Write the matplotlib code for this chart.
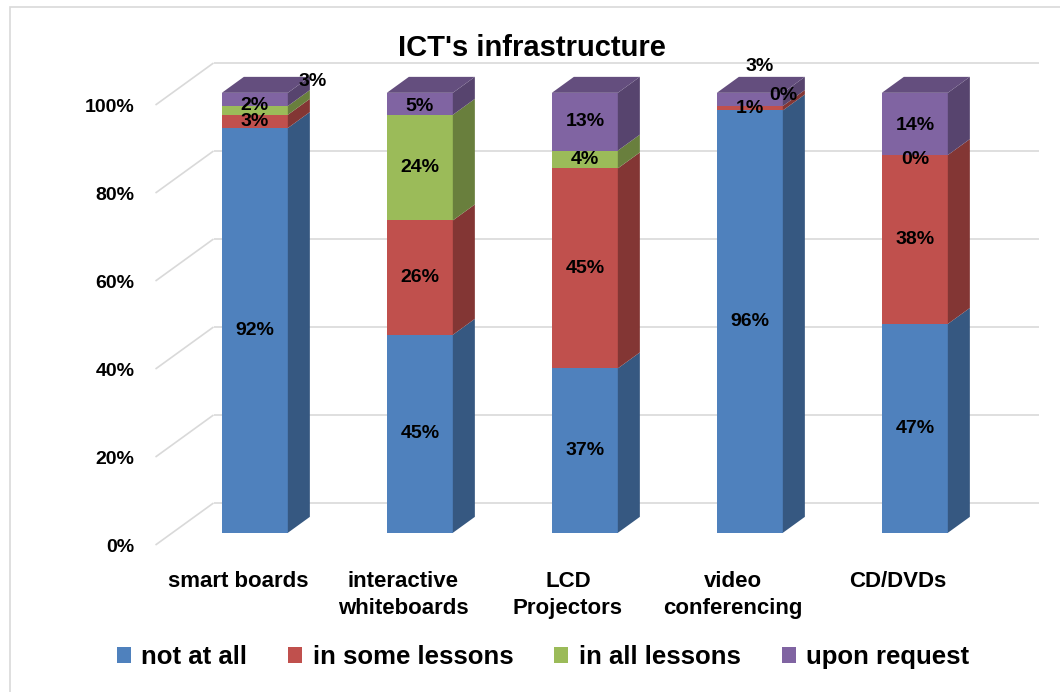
import matplotlib
matplotlib.use("Agg")
import matplotlib.pyplot as plt
from matplotlib.patches import Polygon, Patch, Rectangle
import numpy as np

plt.rcParams['font.family'] = ['Liberation Sans', 'DejaVu Sans']
plt.rcParams['font.weight'] = 'bold'

# ---------------- data ----------------
categories = ["smart boards", "interactive\nwhiteboards", "LCD\nProjectors",
              "video\nconferencing", "CD/DVDs"]
series_names = ["not at all", "in some lessons", "in all lessons", "upon request"]
not_at_all = [92, 45, 37, 96, 47]
in_some_lessons = [3, 26, 45, 1, 38]
in_all_lessons = [2, 24, 4, 0, 0]
upon_request = [3, 5, 13, 3, 14]
y_ticks = [0, 20, 40, 60, 80, 100]
y_tick_labels = ["0%", "20%", "40%", "60%", "80%", "100%"]

series = [not_at_all, in_some_lessons, in_all_lessons, upon_request]
colors = ["#4F81BD", "#C0504D", "#9BBB59", "#8064A2"]


def shade(hex_color, f):
    c = np.array(matplotlib.colors.to_rgb(hex_color)) * f
    return tuple(np.clip(c, 0, 1))


# ---------------- figure / axes ----------------
W, H = 1060, 692
fig = plt.figure(figsize=(W / 100, H / 100), dpi=100)
fig.patch.set_facecolor("white")

# front plane of the plot: pixels x 155.5..980.5, y 545..105 (from top)
ax = fig.add_axes([155.5 / W, (H - 545) / H, 825 / W, 440 / H])
ax.set_xlim(0, len(categories))
ax.set_ylim(0, 100)
for s in ax.spines.values():
    s.set_visible(False)
ax.set_facecolor("none")

# depth of the 3-D box in data units
DX = 58 / 165.0      # category units
DY = 42 / 4.4        # percent units
F0, F1 = 0.29, 0.67  # bar front/back depth fraction
BAR_W = 0.40

grid_color = "#D9D9D9"
for t in y_ticks:
    ax.plot([0, DX], [t, t + DY], color=grid_color, lw=1.2, zorder=0,
            clip_on=False, solid_capstyle="butt")
    ax.plot([DX, len(categories) + DX], [t + DY, t + DY], color=grid_color,
            lw=1.2, zorder=0, clip_on=False, solid_capstyle="butt")

ax.set_yticks(y_ticks)
ax.set_yticklabels(y_tick_labels, fontsize=14, fontweight="bold")
ax.set_xticks(np.arange(len(categories)) + 0.5)
ax.set_xticklabels(categories, fontsize=16, fontweight="bold", linespacing=1.38)
ax.tick_params(axis="y", length=0, pad=15)
ax.tick_params(axis="x", length=0, pad=19)

# label offsets (pixels, right/up) for small crowded segments
label_offsets = {
    (0, 3): (58, 17.5),
    (0, 2): (0, 5),
    (3, 3): (10, 32.5),
    (3, 2): (33, 11),
    (4, 2): (0, -4),
    (4, 3): (0, -2),
    (1, 3): (0, -3),
}

vals = np.array(series, dtype=float)  # shape (series, categories)
totals = vals.sum(axis=0)
pct = vals / totals * 100.0

ox0, oy0 = F0 * DX, F0 * DY
ox1, oy1 = F1 * DX, F1 * DY

for i in range(len(categories)):
    xl = i + 0.5 - BAR_W / 2 + ox0
    xr = xl + BAR_W
    bottom = 0.0
    top_series = max(k for k in range(len(series)) if pct[k, i] > 0)
    for k in range(len(series)):
        h = pct[k, i]
        y0 = bottom + oy0
        y1 = bottom + h + oy0
        if h > 0:
            # front face
            ax.add_patch(Polygon([(xl, y0), (xr, y0), (xr, y1), (xl, y1)],
                                 closed=True, facecolor=colors[k], edgecolor="none",
                                 zorder=3, clip_on=False))
            # side face
            dxs, dys = ox1 - ox0, oy1 - oy0
            ax.add_patch(Polygon([(xr, y0), (xr + dxs, y0 + dys), (xr + dxs, y1 + dys),
                                  (xr, y1)],
                                 closed=True, facecolor=shade(colors[k], 0.68),
                                 edgecolor="none", zorder=3, clip_on=False))
            if k == top_series:
                ax.add_patch(Polygon([(xl, y1), (xr, y1), (xr + dxs, y1 + dys),
                                      (xl + dxs, y1 + dys)],
                                     closed=True, facecolor=shade(colors[k], 0.78),
                                     edgecolor="none", zorder=3, clip_on=False))
        off = label_offsets.get((i, k), (0, 0))
        ax.annotate(f"{int(series[k][i])}%", xy=((xl + xr) / 2, (y0 + y1) / 2),
                    xytext=(off[0] * 0.72, off[1] * 0.72), textcoords="offset points",
                    ha="center", va="center", fontsize=14, fontweight="bold",
                    color="black", zorder=5, annotation_clip=False)
        bottom += h

# title
fig.text(532 / W, 1 - 48 / H, "ICT's infrastructure", ha="center", va="center",
         fontsize=21, fontweight="bold")

# legend
handles = [Patch(facecolor=c, edgecolor="none") for c in colors]
ax.legend(handles, series_names, ncol=4, loc="center",
          bbox_to_anchor=(543 / W, 1 - 657 / H), bbox_transform=fig.transFigure,
          frameon=False, prop={"size": 18.5, "weight": "bold"},
          handlelength=0.55, handleheight=0.55, handletextpad=0.4,
          columnspacing=1.6)

# chart border
fig.add_artist(Rectangle((10 / W, -0.1), 2, 1 - 7 / H + 0.1,
                         transform=fig.transFigure, fill=False,
                         edgecolor="#D9D9D9", lw=1.2))

fig.savefig("out.png", dpi=100)
